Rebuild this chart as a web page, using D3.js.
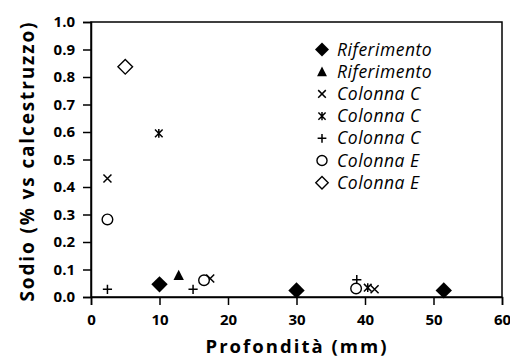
<!DOCTYPE html>
<html><head><meta charset="utf-8">
<script src="https://cdn.jsdelivr.net/npm/d3@7"></script>
<style>body{margin:0;background:#fff}svg{display:block}</style>
</head><body>
<svg id="c" width="510" height="360"></svg>
<script>
const xTicks = [0,10,20,30,40,50,60];
const yTicks = [0,0.1,0.2,0.3,0.4,0.5,0.6,0.7,0.8,0.9,1.0];
const seriesNames = ["Riferimento","Riferimento","Colonna C","Colonna C","Colonna C","Colonna E","Colonna E"];
const seriesSymbols = ["diamondFilled","triangle","cross","asterisk","plus","circle","diamondOpen"];
const rifDiamond = [[10,0.046],[30,0.024],[51.5,0.024]];
const rifTriangle = [[12.8,0.079]];
const colCx = [[2.4,0.431],[17.4,0.067],[41.4,0.028]];
const colCstar = [[9.9,0.595],[40.4,0.034]];
const colCplus = [[2.4,0.028],[14.9,0.028],[38.8,0.063]];
const colEcircle = [[2.4,0.282],[16.5,0.061],[38.7,0.031]];
const colEdiamond = [[5,0.837]];
const seriesData = [rifDiamond,rifTriangle,colCx,colCstar,colCplus,colEcircle,colEdiamond];

const svg = d3.select("#c");
const m = {l:91, t:22, r:502, b:297};
const x = d3.scaleLinear().domain([0,60]).range([m.l,m.r]);
const y = d3.scaleLinear().domain([0,1]).range([m.b,m.t]);
const font = "'Open Sans', 'DejaVu Sans', sans-serif";

svg.append("rect").attr("x",m.l).attr("y",m.t).attr("width",m.r-m.l).attr("height",m.b-m.t)
  .attr("fill","none").attr("stroke","#000").attr("stroke-width",1.5);

const xa = svg.append("g").attr("transform",`translate(0,${m.b})`)
  .call(d3.axisBottom(x).tickValues(xTicks).tickSize(8).tickPadding(9).tickFormat(d3.format("d")));
const ya = svg.append("g").attr("transform",`translate(${m.l},0)`)
  .call(d3.axisLeft(y).tickValues(yTicks).tickSize(8).tickPadding(8).tickFormat(d3.format(".1f")));
[xa,ya].forEach(a=>{
  a.select(".domain").attr("stroke","#000").attr("stroke-width",1.5);
  a.selectAll(".tick line").attr("stroke","#000").attr("stroke-width",1.5);
  a.selectAll("text").attr("font-family",font).attr("font-weight","bold").attr("font-size",15).attr("fill","#000");
});

svg.append("text").attr("x",296).attr("y",353).attr("text-anchor","middle")
  .attr("font-family",font).attr("font-weight","bold").attr("font-size",18.5)
  .attr("textLength",181).attr("lengthAdjust","spacing").text("Profondità (mm)");
svg.append("text").attr("transform",`translate(34,162) rotate(-90)`).attr("text-anchor","middle")
  .attr("font-family",font).attr("font-weight","bold").attr("font-size",19)
  .attr("textLength",279).attr("lengthAdjust","spacing").text("Sodio (% vs calcestruzzo)");

function drawSym(g, sym, cx, cy, scale) {
  const s = scale||1;
  if (sym==="diamondFilled") {
    const h=8.2*s;
    g.append("path").attr("d",`M${cx},${cy-h}L${cx+h},${cy}L${cx},${cy+h}L${cx-h},${cy}Z`).attr("fill","#000");
  } else if (sym==="diamondOpen") {
    const h=7.3*s;
    g.append("path").attr("d",`M${cx},${cy-h}L${cx+h},${cy}L${cx},${cy+h}L${cx-h},${cy}Z`).attr("fill","#fff").attr("stroke","#000").attr("stroke-width",1.4);
  } else if (sym==="triangle") {
    const h=5.2*s;
    g.append("path").attr("d",`M${cx},${cy-h*1.05}L${cx+h},${cy+h*0.9}L${cx-h},${cy+h*0.9}Z`).attr("fill","#000");
  } else if (sym==="cross") {
    const h=4*s;
    g.append("path").attr("d",`M${cx-h},${cy-h}L${cx+h},${cy+h}M${cx-h},${cy+h}L${cx+h},${cy-h}`).attr("stroke","#000").attr("stroke-width",1.5).attr("fill","none");
  } else if (sym==="asterisk") {
    const h=3.8*s;
    g.append("path").attr("d",`M${cx-h},${cy-h}L${cx+h},${cy+h}M${cx-h},${cy+h}L${cx+h},${cy-h}M${cx},${cy-h-0.5}L${cx},${cy+h+0.5}`).attr("stroke","#000").attr("stroke-width",1.5).attr("fill","none");
  } else if (sym==="plus") {
    const h=4.6*s;
    g.append("path").attr("d",`M${cx-h},${cy}L${cx+h},${cy}M${cx},${cy-h}L${cx},${cy+h}`).attr("stroke","#000").attr("stroke-width",1.5).attr("fill","none");
  } else if (sym==="circle") {
    g.append("circle").attr("cx",cx).attr("cy",cy).attr("r",5.3*s).attr("fill","#fff").attr("stroke","#000").attr("stroke-width",1.4);
  }
}

const pts = svg.append("g");
seriesData.forEach((data,i)=>{
  data.forEach(d=>drawSym(pts, seriesSymbols[i], x(d[0]), y(d[1])));
});

const lg = svg.append("g");
seriesNames.forEach((name,i)=>{
  const cy = 49.5 + i*22.2;
  drawSym(lg, seriesSymbols[i], 322, cy, (i===0||i===6)?0.85:0.95);
  lg.append("text").attr("x",337).attr("y",cy+6).attr("font-family",font).attr("font-style","italic")
    .attr("font-size",17.5).attr("letter-spacing",0.5).attr("fill","#000").text(name);
});
</script>
</body></html>
